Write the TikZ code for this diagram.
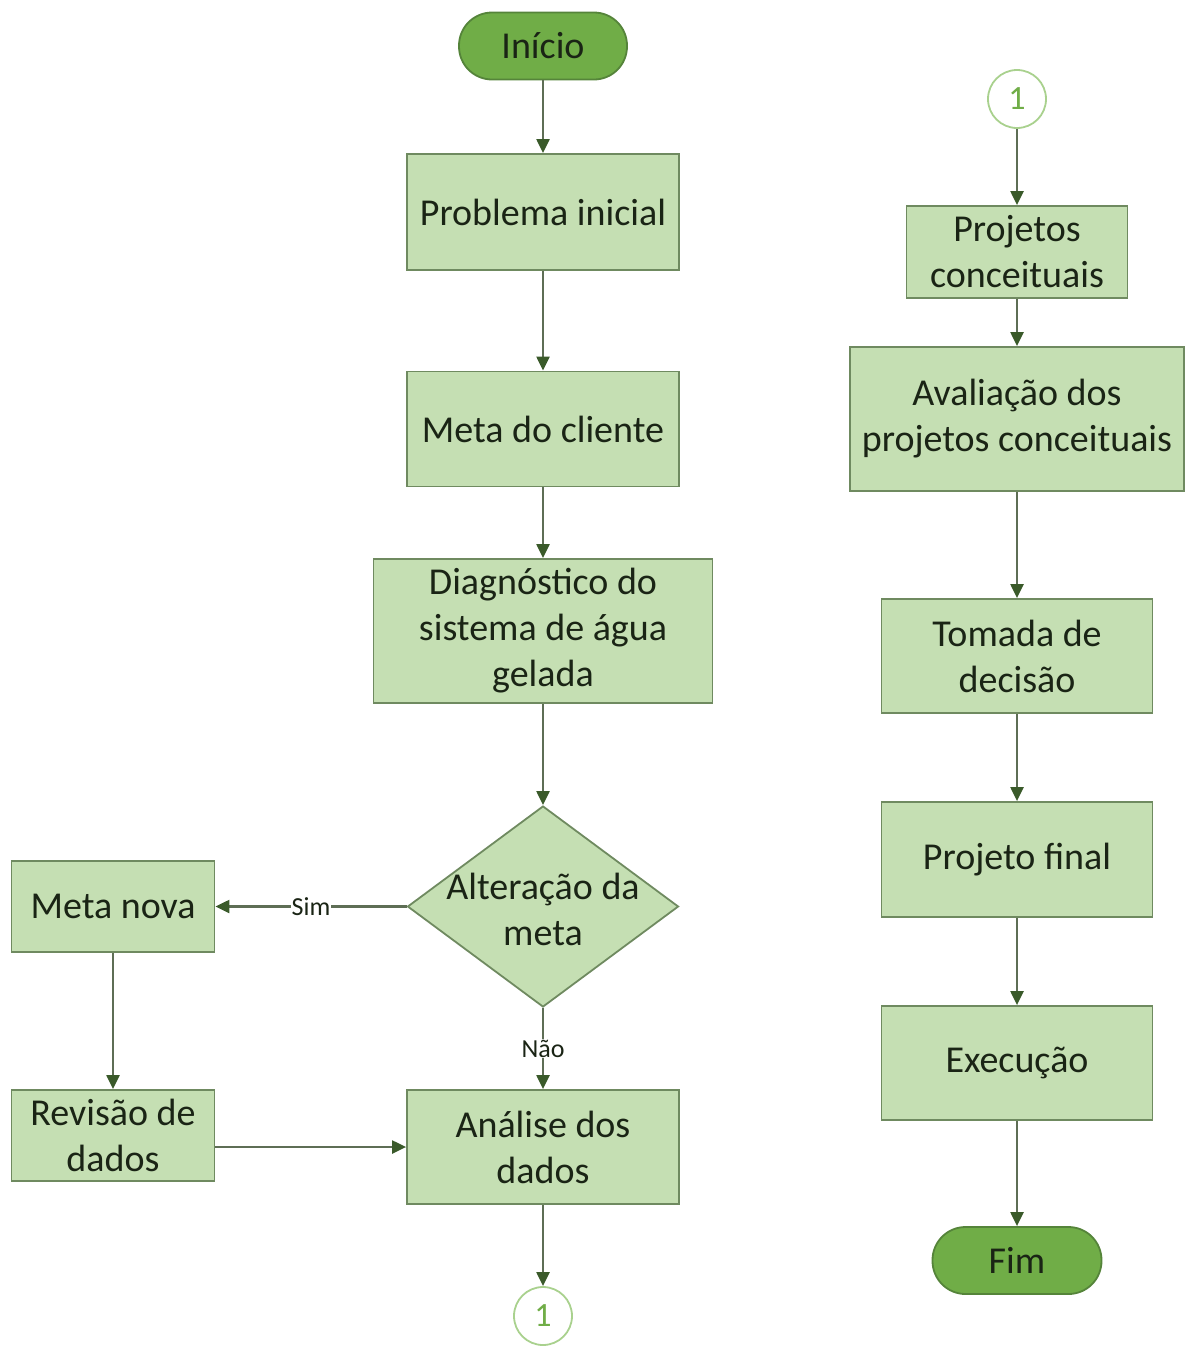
\documentclass[tikz,border=0pt]{standalone}
\usepackage{fontspec}
\setmainfont{Carlito}
\usetikzlibrary{shapes.geometric,arrows.meta}
\definecolor{boxfill}{HTML}{C5DFB3}
\definecolor{boxline}{HTML}{6F8A60}
\definecolor{pillfill}{HTML}{70AD47}
\definecolor{pillline}{HTML}{55843A}
\definecolor{conline}{HTML}{5E6E55}
\definecolor{tipcol}{HTML}{3A5A2A}
\definecolor{circline}{HTML}{A9D18E}
\definecolor{circtext}{HTML}{70AD47}
\definecolor{txt}{HTML}{1A2415}
\tikzset{
  x=1pt, y=-1pt,
  stepbox/.style={draw=boxline, line width=1.8pt, fill=boxfill, align=center,
    inner sep=0pt, text=txt, font=\fontsize{38}{46}\selectfont},
  pill/.style={draw=pillline, line width=1.8pt, fill=pillfill, align=center,
    inner sep=0pt, text=txt, minimum width=168pt, minimum height=67pt,
    rounded corners=33pt, font=\fontsize{38}{46}\selectfont},
  decide/.style={diamond, draw=boxline, line width=1.8pt, fill=boxfill,
    inner sep=0pt, minimum width=271pt, minimum height=201pt},
  conn/.style={circle, draw=circline, line width=1.8pt, fill=white,
    minimum size=58pt, inner sep=0pt, text=circtext, font=\fontsize{34}{38}\selectfont},
  flow/.style={draw=conline, line width=2.2pt,
    -{Triangle[length=14pt,width=13pt,color=tipcol]}},
  lbl/.style={fill=white, inner sep=1pt, text=txt, font=\fontsize{26}{28}\selectfont}
}
\begin{document}
\begin{tikzpicture}
\useasboundingbox (0,0) rectangle (1184,1347);
% left column
\node[pill] (ini) at (543,46) {Início};
\node[stepbox, minimum width=272pt, minimum height=116pt] (prob) at (543,212) {Problema inicial};
\node[stepbox, minimum width=272pt, minimum height=115pt] (meta) at (543,429) {Meta do cliente};
\node[stepbox, minimum width=339pt, minimum height=144pt] (diag) at (543,631) {Diagnóstico do\\sistema de água\\gelada};
\node[decide] (dec) at (543,906.5) {};
\node[align=center, text=txt, font=\fontsize{38}{46}\selectfont] (dectext) at (543,909) {Alteração da\\meta};
\node[stepbox, minimum width=203pt, minimum height=91pt] (nova) at (113,906.5) {Meta nova};
\node[stepbox, minimum width=203pt, minimum height=91pt] (rev) at (113,1135.5) {Revisão de\\dados};
\node[stepbox, minimum width=272pt, minimum height=114pt] (ana) at (543,1147) {Análise dos\\dados};
\node[conn] (c1a) at (543,1316) {1};
% right column
\node[conn] (c1b) at (1017,99) {1};
\node[stepbox, minimum width=221pt, minimum height=92pt] (pc) at (1017,252) {Projetos\\conceituais};
\node[stepbox, minimum width=334pt, minimum height=144pt] (av) at (1017,419) {Avaliação dos\\projetos conceituais};
\node[stepbox, minimum width=271pt, minimum height=114pt] (tom) at (1017,656) {Tomada de\\decisão};
\node[stepbox, minimum width=271pt, minimum height=115pt] (pf) at (1017,859.5) {Projeto final};
\node[stepbox, minimum width=271pt, minimum height=114pt] (exe) at (1017,1063) {Execução};
\node[pill, minimum width=169pt] (fim) at (1017,1260.5) {Fim};
% connectors left
\draw[flow] (ini) -- (prob);
\draw[flow] (prob) -- (meta);
\draw[flow] (meta) -- (diag);
\draw[flow] (diag) -- (dec);
\draw[flow] (dec.west) -- node[lbl] {Sim} (nova.east);
\draw[flow] (dec.south) -- node[lbl] {Não} (ana.north);
\draw[flow] (nova) -- (rev);
\draw[flow] (rev.east |- ana.west) -- (ana.west);
\draw[flow] (ana) -- (c1a);
% connectors right
\draw[flow] (c1b) -- (pc);
\draw[flow] (pc) -- (av);
\draw[flow] (av) -- (tom);
\draw[flow] (tom) -- (pf);
\draw[flow] (pf) -- (exe);
\draw[flow] (exe) -- (fim);
\end{tikzpicture}
\end{document}
